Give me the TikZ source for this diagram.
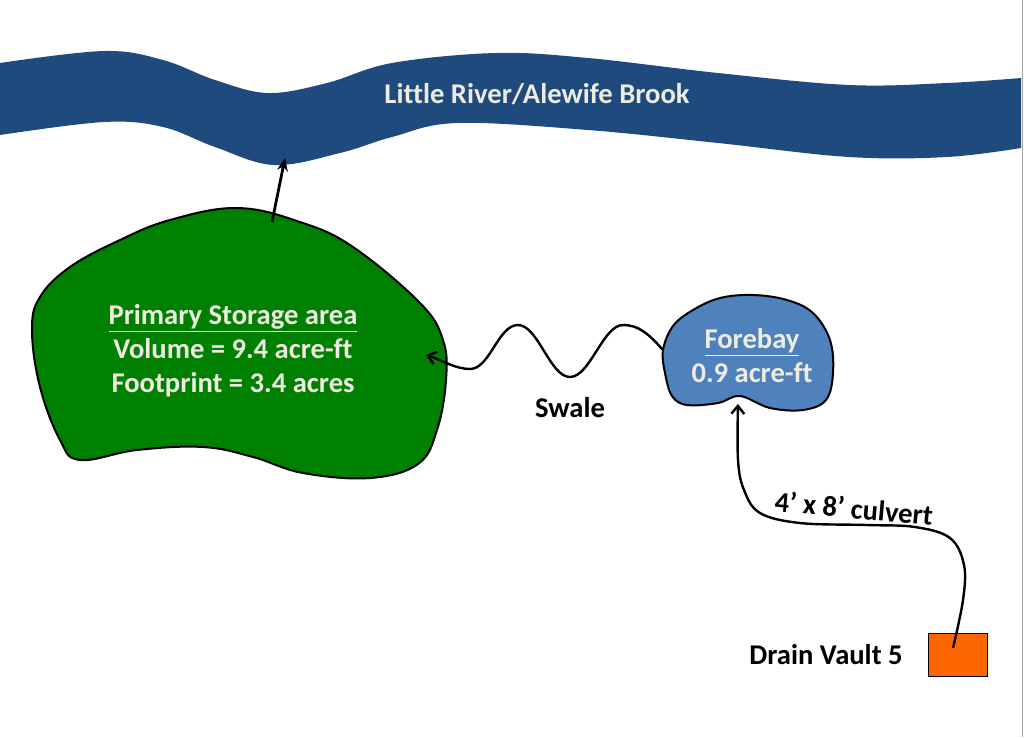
\documentclass[tikz,border=0pt]{standalone}
\usepackage{fontspec}
\setmainfont{Carlito}[Ligatures=NoCommon]
\usetikzlibrary{arrows.meta}
\definecolor{riverblue}{HTML}{1F4A7E}
\definecolor{poolgreen}{HTML}{008000}
\definecolor{forebayblue}{HTML}{4F81BD}
\definecolor{cream}{HTML}{EEECE1}
\definecolor{vault}{HTML}{FF6600}
\tikzset{
  lighttext/.style={text=cream, font=\fontsize{28.6}{34}\selectfont\bfseries, align=center},
  darktext/.style={text=black, font=\fontsize{28.6}{34}\selectfont\bfseries},
  blob/.style={draw=black, line width=2pt},
  flow/.style={draw=black, line width=2.8pt, -{Stealth[length=13pt,width=11pt]}},
  thinflow/.style={draw=black, line width=2.4pt, -{Straight Barb[length=8pt,width=13pt]}},
}
\begin{document}
\begin{tikzpicture}[x=1pt,y=-1pt]
\useasboundingbox (0,0) rectangle (1024,737);
\fill[white] (0,0) rectangle (1024,737);
% river
\fill[riverblue] plot[smooth, tension=0.6] coordinates {(0,63) (104,51) (163,60) (215,80) (268,93) (327,83) (392,63) (496,53) (588,58) (718,73) (849,85) (947,83) (1021,78)}
  -- (1021,148)
  -- plot[smooth, tension=0.6] coordinates {(1021,148) (947,157) (849,157) (718,143) (588,130) (457,123) (392,137) (340,153) (274,165) (215,147) (163,127) (104,122) (0,135)}
  -- cycle;
\node[lighttext] (river) at (537,94) {Little River/Alewife Brook};
% right border line
\draw[gray!70, line width=1.5pt] (1022.5,0) -- (1022.5,737);
% green storage area
\draw[blob, fill=poolgreen] plot[smooth cycle, tension=0.65] coordinates {(237,208) (300,222) (353,247) (420,303) (443,340) (446,380) (437,430) (418,464) (370,478) (303,473) (253,457) (203,447) (137,450) (80,460) (60,440) (40,387) (32,330) (40,297) (70,267) (120,240) (170,220)};
\node[lighttext] (storage) at (233,351) {\underline{Primary Storage area}\\Volume = 9.4 acre-ft\\Footprint = 3.4 acres};
% forebay
\draw[blob, fill=forebayblue] plot[smooth cycle, tension=0.6] coordinates {(663,350) (673,326) (693,310) (720,298) (753,295) (787,300) (813,313) (830,340) (833,373) (826,400) (803,410) (770,408) (740,396) (718,403) (687,405) (672,396) (665,373)};
\node[lighttext] (forebay) at (752,356) {\underline{Forebay}\\0.9 acre-ft};
% drain vault
\node[draw=black, line width=1pt, fill=vault, minimum width=59pt, minimum height=43pt, inner sep=0pt] (dv) at (957.5,654.5) {};
\node[darktext] (dvlabel) at (826,655) {Drain Vault 5};
% connectors
\coordinate (gtop) at (272,222);
\coordinate (rbot) at (285,158);
\draw[flow] (gtop) -- (rbot);
\coordinate (fleft) at (663,350);
\coordinate (gright) at (426,355);
\draw[thinflow] (fleft) .. controls (648,333) and (638,325) .. (623,325)
  .. controls (603,325) and (590,377) .. (570,377)
  .. controls (550,377) and (538,325) .. (518,325)
  .. controls (498,325) and (490,369) .. (470,369)
  .. controls (455,369) and (442,360) .. (gright);
\node[darktext] (swale) at (570,408) {Swale};
\coordinate (dvin) at (953,648);
\coordinate (fbot) at (738,404);
\draw[thinflow] plot[smooth, tension=0.6] coordinates {(953,648) (963,600) (964,565) (950,538) (915,527) (867,525) (800,523) (760,513) (744,490) (738,460) (738,404)};
\node[darktext, rotate=-5] (culvert) at (854,508) {4’ x 8’ culvert};
\end{tikzpicture}
\end{document}
